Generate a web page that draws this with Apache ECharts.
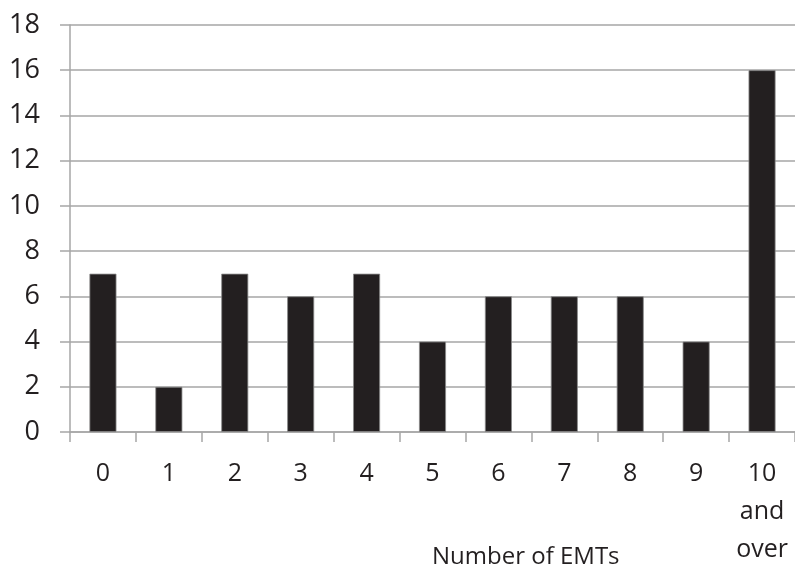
<!DOCTYPE html>
<html>
<head>
<meta charset="utf-8">
<script src="https://cdn.jsdelivr.net/npm/echarts@6/dist/echarts.min.js"></script>
<style>
  html, body { margin: 0; padding: 0; background: #fff; }
  #chart { width: 795px; height: 573px; }
</style>
</head>
<body>
<div id="chart"></div>
<script>
var categories = ['0', '1', '2', '3', '4', '5', '6', '7', '8', '9', '10\nand\nover'];
var counts = [7, 2, 7, 6, 7, 4, 6, 6, 6, 4, 16];
var yTicks = { min: 0, max: 18, interval: 2 };
var xTitle = 'Number of EMTs';

var chartDom = document.getElementById('chart');
var myChart = echarts.init(chartDom);
var option;

var textColor = '#231f20';
var lineColor = '#a6a6a6';
var font = '"Open Sans", "Noto Sans", sans-serif';

option = {
    animation: false,
    title: {
        text: xTitle,
        left: 432,
        top: 545,
        padding: 0,
        textStyle: {
            color: textColor,
            fontSize: 24,
            fontWeight: 'normal',
            fontFamily: font
        }
    },
    grid: {
        left: 70,
        right: 0,
        top: 25,
        bottom: 141,
        outerBoundsMode: 'none',
        containLabel: false
    },
    xAxis: {
        type: 'category',
        data: categories,
        axisLine: {
            lineStyle: { color: lineColor, width: 1.5 }
        },
        axisTick: {
            show: true,
            length: 10,
            lineStyle: { color: lineColor, width: 1.5 }
        },
        axisLabel: {
            interval: 0,
            margin: 23,
            color: textColor,
            fontSize: 25,
            lineHeight: 38,
            fontFamily: font
        }
    },
    yAxis: {
        type: 'value',
        min: yTicks.min,
        max: yTicks.max,
        interval: yTicks.interval,
        axisLine: {
            show: true,
            lineStyle: { color: lineColor, width: 1.5 }
        },
        axisTick: {
            show: true,
            length: 10,
            lineStyle: { color: lineColor, width: 1.5 }
        },
        splitLine: {
            lineStyle: { color: lineColor, width: 1.5 }
        },
        axisLabel: {
            margin: 30,
            color: textColor,
            fontSize: 27,
            fontFamily: font
        }
    },
    series: [{
        type: 'bar',
        data: counts,
        barWidth: 27,
        itemStyle: {
            color: textColor,
            borderColor: '#8a8a8a',
            borderWidth: 0.8
        }
    }]
};

myChart.setOption(option);
</script>
</body>
</html>
